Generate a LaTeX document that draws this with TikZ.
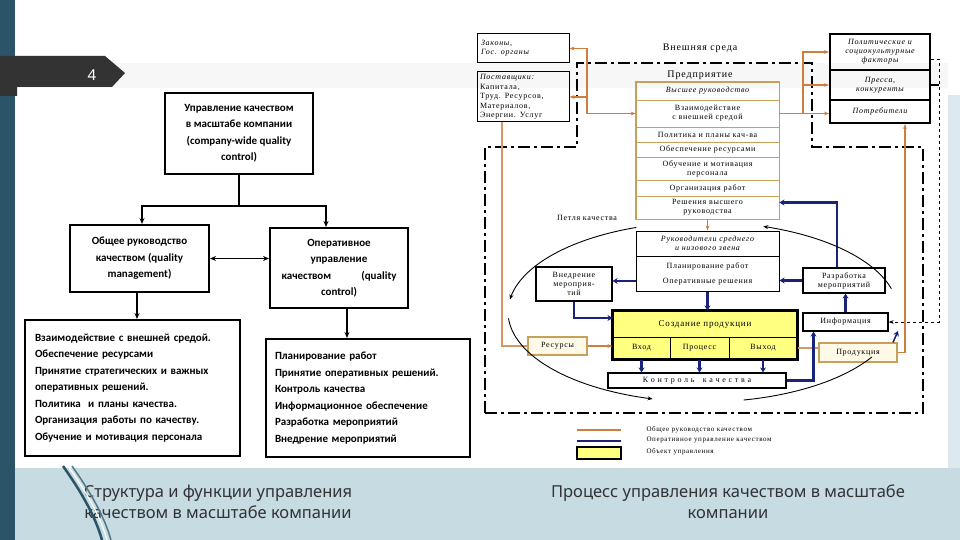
\documentclass[tikz,border=0pt]{standalone}
\usepackage{fontspec}
\setmainfont{Liberation Serif}
\newfontfamily\lfont{Carlito}
\newfontfamily\rfont{Liberation Serif}[LetterSpace=9]
\newfontfamily\capfont{Noto Sans}
\usepackage{xcolor}
\usetikzlibrary{arrows.meta}
\definecolor{slteal}{RGB}{44,84,104}
\definecolor{tabgrey}{RGB}{51,51,51}
\definecolor{band}{RGB}{198,219,226}
\definecolor{orng}{RGB}{205,125,60}
\definecolor{tanbd}{RGB}{200,160,90}
\definecolor{qnavy}{RGB}{25,35,120}
\definecolor{qyel}{RGB}{255,255,128}
\definecolor{cream}{RGB}{255,250,232}

\begin{document}
\begin{tikzpicture}[x=1pt,y=-1pt,
  lbx/.style={draw,line width=2pt,align=center,inner sep=0pt,font=\lfont\bfseries\fontsize{11}{16.5}\selectfont},
  lln/.style={line width=1.6pt,-{Stealth[length=6pt,width=5pt]}},
  rbx/.style={draw,line width=1pt,inner sep=0pt,align=center,font=\rfont\fontsize{8}{9}\selectfont},
  ital/.style={font=\rfont\itshape\fontsize{8}{9}\selectfont},
  ent/.style={rbx,draw=tanbd,line width=0.7pt,minimum width=143pt},
  oln/.style={orng,line width=1.8pt},
  nln/.style={qnavy,line width=2.5pt,-{Stealth[length=5pt,width=6pt]}},
  loopln/.style={line width=0.9pt,-{Stealth[length=5pt,width=4pt]}},
  bound/.style={line width=2.4pt,dash pattern=on 12pt off 4pt on 3pt off 4pt},
  capt/.style={text=black!80,align=center,font=\capfont\fontsize{16.5}{21}\selectfont}]
\useasboundingbox (0,0) rectangle (960,540);
% slide background
\fill[white] (0,0) rectangle (960,540);
\fill[black!3] (0,63) rectangle (948,88);
\fill[band] (15,468) rectangle (960,540);
\fill[band!60] (948,95) rectangle (960,468);
\fill[slteal] (0,0) rectangle (15,540);
\fill[tabgrey] (0,56) -- (105,56) -- (125,73) -- (112,87) -- (17,87) -- (17,96) -- (0,96) -- cycle;
\node[white,font=\capfont\fontsize{15}{15}\selectfont] (num) at (92,75) {4};

% left: structure
\node[lbx,minimum width=148pt,minimum height=81pt] (cwqc) at (239,133.5)
  {Управление качеством\\в масштабе компании\\(company-wide quality\\control)};
\node[lbx,minimum width=139pt,minimum height=67pt] (qm) at (139.5,258.5)
  {Общее руководство\\качеством (quality\\management)};
\node[lbx,minimum width=138pt,minimum height=80pt] (qc) at (339,268)
  {Оперативное\\управление\\\makebox[115pt]{качеством\hfill(quality}\\control)};
\node[lbx,minimum width=215pt,minimum height=136pt,align=left,text width=195pt] (qmf) at (132.5,388)
  {Взаимодействие с внешней средой.\\Обеспечение ресурсами\\Принятие стратегических и важных\\оперативных решений.\\Политика \ и планы качества.\\Организация работы по качеству.\\Обучение и мотивация персонала};
\node[lbx,minimum width=204pt,minimum height=118pt,align=left,text width=186pt] (qcf) at (368,398)
  {Планирование работ\\Принятие оперативных решений.\\Контроль качества\\Информационное обеспечение\\Разработка мероприятий\\Внедрение мероприятий};
\draw[line width=1.6pt] (cwqc.south) -- ++(0,31) coordinate (sp);
\draw[lln] (sp) -| ([xshift=2.5pt]qm.north);
\draw[lln] (sp) -| ([xshift=-13pt]qc.north);
\draw[line width=1.6pt,{Stealth[length=6pt,width=5pt]}-{Stealth[length=6pt,width=5pt]}] (qm.east) -- (qm.east -| qc.west);
\draw[lln] ([xshift=-2.5pt]qm.south) -- ([xshift=-2.5pt]qm.south |- qmf.north);
\draw[lln] ([xshift=8pt]qc.south) -- ([xshift=8pt]qc.south |- qcf.north);

% right: process
\draw[bound] (485,413) -- (485,147) -- (577,147) -- (577,63) -- (812,63) -- (812,147) -- (923,147) -- (923,413) -- cycle;
\node[rbx,ital,minimum width=92pt,minimum height=29pt,align=left,text width=84pt] (law) at (523,48.5) {Законы,\\Гос. органы};
\node[rbx,minimum width=92pt,minimum height=50pt,align=left,text width=86pt,font=\rfont\fontsize{8}{9.5}\selectfont] (supp) at (523,97)
  {\textit{Поставщики:}\\Капитала,\\Труд. Ресурсов,\\Материалов,\\Энергии. Услуг};
\node[font=\rfont\fontsize{10}{10}\selectfont] (env) at (700,48) {Внешняя среда};
\node[font=\rfont\fontsize{10}{10}\selectfont] (entt) at (700,75) {Предприятие};
\node[ent,ital,minimum height=18pt] (vr) at (707.5,91) {Высшее руководство};
\node[ent,minimum height=27pt] (vz) at (707.5,113.5) {Взаимодействие\\с внешней средой};
\node[ent,minimum height=15pt] (pol) at (707.5,134.5) {Политика и планы кач-ва};
\node[ent,minimum height=15pt] (obr) at (707.5,149.5) {Обеспечение ресурсами};
\node[ent,minimum height=23pt] (obm) at (707.5,168.5) {Обучение и мотивация\\персонала};
\node[ent,minimum height=16pt] (org) at (707.5,188) {Организация работ};
\node[ent,minimum height=23pt] (rvr) at (707.5,207.5) {Решения высшего\\руководства};
\draw[tanbd,line width=1.6pt] (vr.north west) rectangle (rvr.south east);
\node[rbx,ital,line width=2pt,minimum width=100pt,minimum height=36pt] (pf) at (880,52) {Политические и\\социокультурные\\факторы};
\node[rbx,ital,line width=2pt,minimum width=100pt,minimum height=30pt] (pk) at (880,85) {Пресса,\\конкуренты};
\node[rbx,ital,line width=2pt,minimum width=100pt,minimum height=23pt] (pt) at (880,111.5) {Потребители};
\node[font=\rfont\fontsize{8}{9}\selectfont] (loop) at (587,218) {Петля качества};
\node[rbx,ital,minimum width=143pt,minimum height=25pt] (rs) at (707.5,243.5) {Руководители среднего\\и низового звена};
\node[rbx,minimum width=143pt,minimum height=35pt] (pl) at (707.5,273.5) {Планирование работ\\[6pt]Оперативные решения};
\node[rbx,line width=1.2pt,minimum width=76pt,minimum height=34pt] (vn) at (574,284) {Внедрение\\мероприя-\\тий};
\node[rbx,line width=1.2pt,minimum width=82pt,minimum height=25pt] (rm) at (844,280.5) {Разработка\\мероприятий};
\node[rbx,line width=1.2pt,minimum width=85pt,minimum height=18pt] (inf) at (845.5,322) {Информация};
\node[rbx,fill=qyel,minimum width=184pt,minimum height=26pt,font=\rfont\fontsize{9}{9}\selectfont] (cp) at (705,324) {Создание продукции};
\node[rbx,fill=qyel,minimum width=57pt,minimum height=22pt] (vh) at (641.5,348) {Вход};
\node[rbx,fill=qyel,minimum width=59pt,minimum height=22pt] (pr) at (699.5,348) {Процесс};
\node[rbx,fill=qyel,minimum width=68pt,minimum height=22pt] (vy) at (763,348) {Выход};
\draw[line width=3pt] (cp.north west) rectangle (vy.south east);
\node[rbx,line width=1.2pt,minimum width=178pt,minimum height=15pt] (kk) at (697,380.5) {К о н т р о л ь \ \ к а ч е с т в а};
\node[rbx,draw=tanbd,fill=cream,line width=1.2pt,minimum width=59pt,minimum height=18pt] (res) at (557.5,346) {Ресурсы};
\node[rbx,draw=tanbd,fill=cream,line width=1.2pt,minimum width=78pt,minimum height=19pt] (prod) at (858,352.5) {Продукция};

% general management (orange)
\coordinate (ol) at (587,0);
\coordinate (orr) at (803,0);
\draw[oln,{Stealth[length=5pt]}-{Stealth[length=5pt]}] (vz.west) -- (vz.west -| ol) |- (law.east);
\draw[oln,-{Stealth[length=5pt]}] (supp.east -| ol) -- (supp.east);
\draw[oln,-{Stealth[length=5pt]}] (vz.east) -- (vz.east -| pt.west);
\draw[oln,-{Stealth[length=5pt]}] (vz.east -| orr) |- (pf.west);
\draw[oln,-{Stealth[length=5pt]}] (orr |- pk.west) -- (pk.west);
\draw[oln,-{Stealth[length=5pt]}] (rvr.south) -- (rs.north);
\draw[orng!80,line width=1.4pt] ([xshift=-21pt]supp.south) |- (res.west);
\draw[oln,-{Stealth[length=5pt]}] (res.east) -- (res.east -| vh.west);
\draw[orng!80,line width=1.4pt] (vy.east) -- (vy.east -| prod.west);
\draw[oln,-{Stealth[length=5pt]}] (prod.east) -| ([xshift=25pt]pt.south);

% operative control (navy)
\draw[nln] ([xshift=-7pt]rm.north) |- ([yshift=5pt]rvr.east);
\draw[nln] (rm.west) -- (rm.west -| pl.east);
\draw[nln] (inf.north) -- (inf.north |- rm.south);
\draw[nln] (kk.east) -| ([xshift=-32pt]inf.south);
\draw[nln] ([yshift=-7.5pt]pl.west) -- ([yshift=-7.5pt]pl.west -| vn.east);
\draw[nln] (vn.south) |- ([yshift=6pt]cp.west);
\draw[nln] (pl.south) -- (pl.south |- cp.north);
\draw[nln] (vh.south) -- (vh.south |- kk.north);
\draw[nln] (pr.south) -- (pr.south |- kk.north);
\draw[nln] (vy.south) -- (vy.south |- kk.north);
\coordinate (pj) at (898,331);
\draw[nln,line width=1.5pt] ([xshift=35pt]prod.north) -- (pj);
\draw[line width=0.8pt,dashed,-{Stealth[length=5pt]}] ([yshift=-7pt]pf.east) -- ++(8,0) coordinate (dr) |- (inf.east);
\draw[line width=2pt] (pk.east) -- (pk.east -| dr);

% quality loop
\draw[loopln] plot[domain=250:188,samples=30] ({703+195*cos(\x)},{312+90*sin(\x)});
\draw[loopln] plot[domain=176:105,samples=30] ({703+195*cos(\x)},{312+90*sin(\x)});
\draw[line width=0.9pt] plot[domain=78:30,samples=30] ({703+195*cos(\x)},{312+90*sin(\x)});
\draw[loopln] plot[domain=-15:-72,samples=30] ({703+195*cos(\x)},{312+90*sin(\x)});

% legend
\draw[orng,line width=2pt] (577,430) -- (621,430);
\draw[qnavy,line width=2pt] (577,441) -- (621,441);
\draw[fill=qyel,line width=1.8pt] (577,447) rectangle (621,459);
\node[anchor=west,font=\rfont\fontsize{7}{7}\selectfont] (lg1) at (643,430) {Общее руководство качеством};
\node[anchor=west,font=\rfont\fontsize{7}{7}\selectfont] (lg2) at (643,440) {Оперативное управление качеством};
\node[anchor=west,font=\rfont\fontsize{7}{7}\selectfont] (lg3) at (643,452) {Объект управления};

% captions
\node[capt] (cap1) at (218,502) {Структура и функции управления\\качеством в масштабе компании};
\node[capt] (cap2) at (728,502) {Процесс управления качеством в масштабе\\компании};
\draw[slteal,line width=2.5pt] (63,466) .. controls (80,490) and (95,515) .. (102,540);
\draw[white,line width=1.2pt] (68,466) .. controls (85,490) and (100,515) .. (107,540);
\draw[slteal!80,line width=1.5pt] (72,466) .. controls (89,490) and (104,515) .. (111,540);
\end{tikzpicture}
\end{document}
